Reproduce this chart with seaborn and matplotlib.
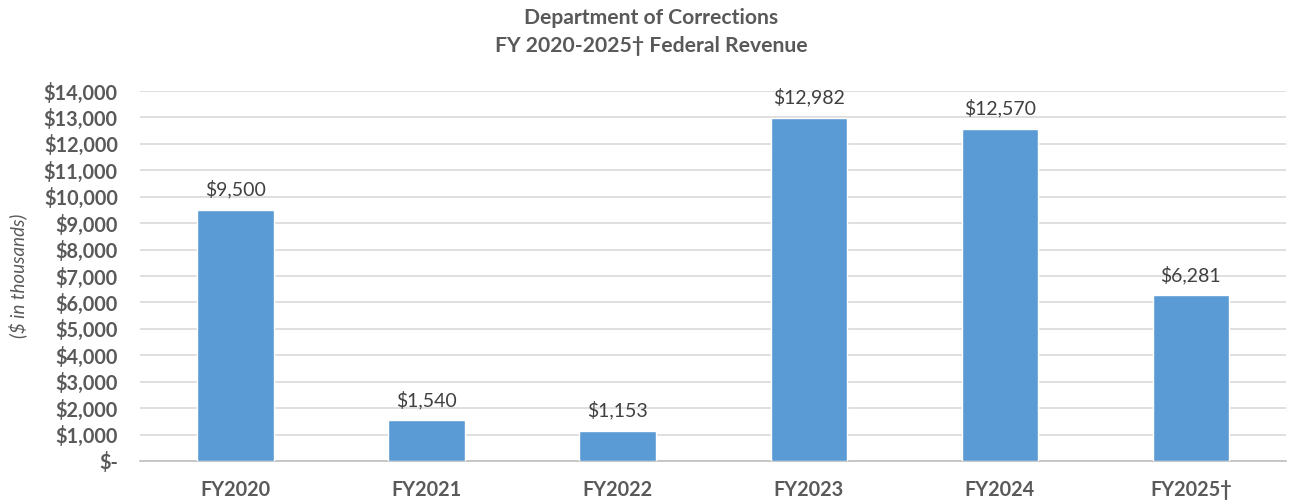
import pandas as pd
import matplotlib.pyplot as plt
import seaborn as sns
from matplotlib.ticker import FuncFormatter, FixedLocator

# data (in $ thousands)
years = ['FY2020', 'FY2021', 'FY2022', 'FY2023', 'FY2024', 'FY2025\u2020']
revenue = [9500, 1540, 1153, 12982, 12570, 6281]

df = pd.DataFrame({'Year': years, 'Revenue': revenue})

sns.set_style('white')
plt.rcParams['font.family'] = ['Lato', 'DejaVu Sans']
txt = '#595959'

fig = plt.figure(figsize=(12.89, 5), dpi=100)
ax = fig.add_axes([0.1086, 0.078, 0.8894, 0.74])

sns.barplot(x='Year', y='Revenue', data=df, color='#5B9BD5', width=0.4,
            saturation=1, ax=ax, zorder=3)

for i, v in enumerate(revenue):
    ax.text(i, v + 420, f'${v:,}', ha='center', va='bottom', fontsize=14, color='#404040')

ax.set_ylim(0, 14000)
ax.set_xlim(-0.5, len(years) - 0.5)
ax.set_yticks(range(0, 14001, 1000))
ax.yaxis.set_major_formatter(FuncFormatter(lambda v, p: '$-' if v == 0 else f'${int(v):,}'))
ax.grid(axis='y', color='#d9d9d9', linewidth=1.2, zorder=0)

for s in ['top', 'right', 'left']:
    ax.spines[s].set_visible(False)
ax.spines['bottom'].set_color('#bfbfbf')
ax.spines['bottom'].set_linewidth(1.2)

ax.xaxis.set_minor_locator(FixedLocator([i - 0.5 for i in range(len(years) + 1)]))
ax.tick_params(axis='x', which='minor', length=5, color='#bfbfbf', width=1.2)
ax.tick_params(axis='x', which='major', length=0, pad=14)
ax.tick_params(axis='y', length=0, pad=16)

for lab in ax.get_xticklabels() + ax.get_yticklabels():
    lab.set_fontweight('bold')
    lab.set_fontsize(14.3)
    lab.set_color(txt)

ax.set_xlabel('')
ax.set_ylabel('($ in thousands)', fontsize=13.5, style='italic', color=txt, va='center')
ax.yaxis.set_label_coords(-0.1064, 0.5)

fig.text(0.505, 0.965, 'Department of Corrections', ha='center', va='center',
         fontsize=15.2, fontweight='bold', color=txt)
fig.text(0.505, 0.908, 'FY 2020-2025\u2020 Federal Revenue', ha='center', va='center',
         fontsize=15.2, fontweight='bold', color=txt)

plt.savefig('out.png', dpi=100)
